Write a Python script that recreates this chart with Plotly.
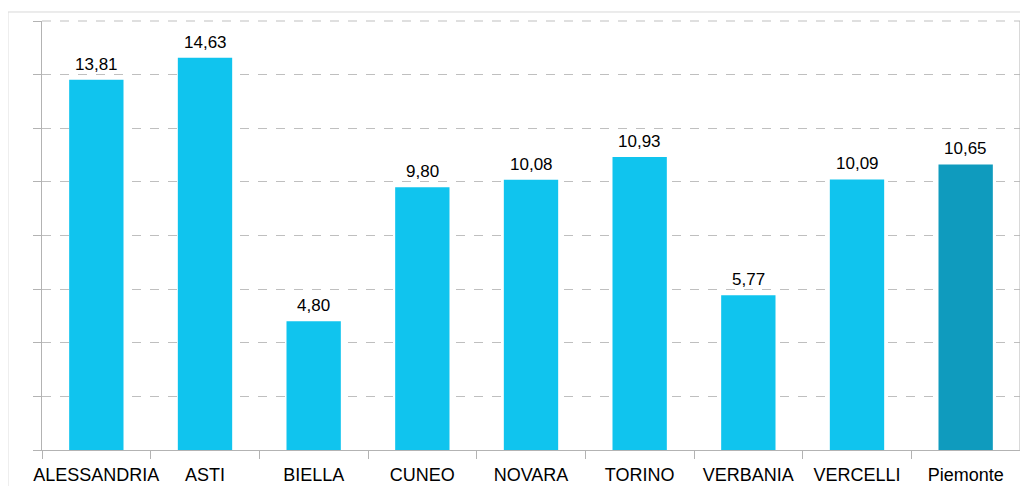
import plotly.graph_objects as go

categories = ["ALESSANDRIA", "ASTI", "BIELLA", "CUNEO", "NOVARA", "TORINO", "VERBANIA", "VERCELLI", "Piemonte"]
values = [13.81, 14.63, 4.80, 9.80, 10.08, 10.93, 5.77, 10.09, 10.65]
colors = ["#10C4EE"] * 8 + ["#0F9BBE"]
labels = [f"{v:.2f}".replace(".", ",") for v in values]

fig = go.Figure(go.Bar(
    x=categories, y=values, marker=dict(color=colors, line=dict(width=0)),
    width=0.5,
))

for c, v, t in zip(categories, values, labels):
    fig.add_annotation(x=c, y=v, text=t, showarrow=False, yanchor="bottom",
                       yshift=4, font=dict(family="Liberation Sans", size=17, color="#000000"))

fig.update_layout(
    width=1020, height=478,
    margin=dict(l=34, r=8, t=13, b=36, autoexpand=False),
    paper_bgcolor="white", plot_bgcolor="white",
    showlegend=False,
    font=dict(family="Liberation Sans", size=18, color="#000000"),
    xaxis=dict(showline=True, linecolor="#B3B3B3", linewidth=1, automargin=False,
               ticks="outside", tickson="boundaries", ticklen=8, tickcolor="#B3B3B3",
               showgrid=False, tickfont=dict(size=18), tickangle=0, mirror=False,
               ticklabelstandoff=8),
    yaxis=dict(range=[0, 16], dtick=2, showticklabels=False, showline=True, automargin=False,
               linecolor="#B3B3B3", ticks="outside", ticklen=8, tickcolor="#B3B3B3",
               showgrid=True, gridcolor="#BFBFBF", griddash="dash", gridwidth=1,
               zeroline=False),
    shapes=[dict(type="rect", xref="paper", yref="paper", x0=-0.0348, x1=1.03,
                 y0=-0.3, y1=1.021, line=dict(color="#D9D9D9", width=1), layer="below"),
            dict(type="line", xref="paper", yref="paper", x0=0, x1=1, y0=1, y1=1,
                 line=dict(color="#BFBFBF", width=1, dash="dash"), layer="below"),
            dict(type="line", xref="paper", yref="paper", x0=1, x1=1, y0=0, y1=1,
                 line=dict(color="#B3B3B3", width=1))],
)

fig.write_html("out.html")
